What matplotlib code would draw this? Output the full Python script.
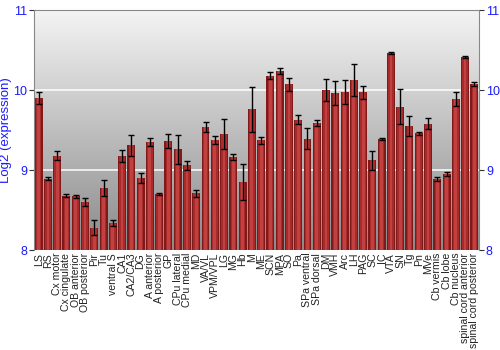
import numpy as np
import matplotlib.pyplot as plt
from matplotlib.colors import LinearSegmentedColormap

plt.rcParams['font.family'] = ['Liberation Sans', 'DejaVu Sans']

regions = ['LS', 'RS', 'Cx motor', 'Cx cingulate', 'OB anterior', 'OB posterior', 'Pir', 'Tu',
           'ventral S', 'CA1', 'CA2/CA3', 'DG', 'A anterior', 'A posterior', 'GP', 'CPu lateral',
           'CPu medial', 'MD', 'VA/VL', 'VPM/VPL', 'LG', 'MG', 'Hb', 'M', 'ME', 'SCN', 'MPA', 'SO',
           'Pa', 'SPa ventral', 'SPa dorsal', 'DM', 'VMH', 'Arc', 'LH', 'PAG', 'SC', 'IC', 'VTA',
           'SN', 'Tg', 'Pn', 'MVe', 'Cb vermis', 'Cb lobe', 'Cb nucleus', 'spinal cord anterior',
           'spinal cord posterior']
expression = [9.90, 8.89, 9.18, 8.68, 8.67, 8.60, 8.28, 8.78,
              8.34, 9.18, 9.31, 8.90, 9.35, 8.70, 9.36, 9.26,
              9.06, 8.71, 9.54, 9.38, 9.45, 9.16, 8.85, 9.76, 9.37, 10.18, 10.24, 10.07,
              9.63, 9.39, 9.59, 10.00, 9.96, 9.98, 10.13, 9.97, 9.12, 9.39, 10.46,
              9.79, 9.55, 9.46, 9.58, 8.89, 8.95, 9.89, 10.41, 10.08]
error = [0.08, 0.02, 0.06, 0.015, 0.015, 0.05, 0.09, 0.10,
         0.04, 0.075, 0.13, 0.06, 0.045, 0.01, 0.09, 0.18,
         0.055, 0.045, 0.065, 0.05, 0.19, 0.04, 0.22, 0.28, 0.04, 0.045, 0.04, 0.08,
         0.055, 0.13, 0.04, 0.14, 0.15, 0.15, 0.20, 0.08, 0.12, 0.01, 0.01,
         0.22, 0.13, 0.02, 0.065, 0.025, 0.02, 0.09, 0.015, 0.025]

fig = plt.figure(figsize=(5, 3.5), dpi=100)
ax = fig.add_axes([0.068, 0.2857, 0.89, 0.6857])

x = np.arange(len(regions))
base = 8

# grey gradient background
bg = LinearSegmentedColormap.from_list('bg', ['#8a8a8a', '#f4f4f4'])
ax.imshow(np.linspace(0, 1, 256).reshape(-1, 1), cmap=bg, aspect='auto', origin='lower',
          extent=[-0.5, len(regions) - 0.5, 8, 11], zorder=0)
for yv in [9, 10]:
    ax.axhline(yv, color='white', lw=1.2, alpha=0.9, zorder=1)

heights = np.array(expression) - base
ax.bar(x, heights, bottom=base, width=0.86, color='#7e1a1a', zorder=2)
ax.bar(x, heights, bottom=base, width=0.6, color='#a82a2a', zorder=3)
ax.bar(x, heights, bottom=base, width=0.3, color='#c24040', zorder=4)
ax.errorbar(x, expression, yerr=error, fmt='none', ecolor='black', elinewidth=1,
            capsize=2, capthick=1, zorder=5)

ax.set_xlim(-0.5, len(regions) - 0.5)
ax.set_ylim(8, 11)
ax.set_yticks([8, 9, 10, 11])
ax.set_xticks(x)
ax.set_xticklabels(regions, rotation=90, fontsize=7.6, color='#222222')
ax.tick_params(axis='x', length=0, pad=2)
ax.tick_params(axis='y', labelcolor='#1a1aff', labelsize=9, color='#333333', length=3.5,
               pad=1.5, right=True, labelright=True)
ax.set_ylabel('Log2 (expression)', color='#1a1aff', fontsize=9.5)
ax.yaxis.set_label_coords(-0.05, 0.5)

for s in ['left', 'top', 'right']:
    ax.spines[s].set_color('#888888')
ax.spines['bottom'].set_visible(False)

fig.savefig('out.png', dpi=100)
